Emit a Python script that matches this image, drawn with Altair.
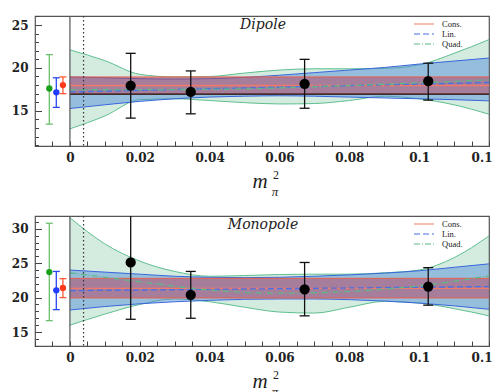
import altair as alt
import pandas as pd

# ---------------- data ----------------
XG = [0.00, 0.01, 0.02, 0.03, 0.04, 0.05, 0.06, 0.07, 0.08, 0.09, 0.10, 0.11, 0.12]
X_DOMAIN = [-0.01, 0.12]
X_LABELS = [0, 0.02, 0.04, 0.06, 0.08, 0.10, 0.12]
X_MINOR = [-0.01, -0.005, 0, 0.005, 0.01, 0.015, 0.02, 0.025, 0.03, 0.035, 0.04, 0.045, 0.05,
           0.055, 0.06, 0.065, 0.07, 0.075, 0.08, 0.085, 0.09, 0.095, 0.10, 0.105, 0.11, 0.115, 0.12]
PHYS_X = 0.0039
FITS = ["Cons.", "Lin.", "Quad."]
CONS_X = [0.0, 0.12]

# Dipole panel
D_YDOM = [10.9, 26.05]
D_YLAB = [15, 20, 25]
D_YMIN = [11, 12, 13, 14, 15, 16, 17, 18, 19, 20, 21, 22, 23, 24, 25, 26]
D_CONS = [16.95, 17.95, 18.95]          # low, central, high
D_LIN_LO = [15.27, 15.7, 16.1, 16.4, 16.6, 16.7, 16.75, 16.7, 16.6, 16.5, 16.4, 16.3, 16.16]
D_LIN_HI = [18.95, 18.85, 18.75, 18.7, 18.75, 18.9, 19.15, 19.45, 19.75, 20.05, 20.45, 20.8, 21.15]
D_LIN_MID_X = [0.0, 0.12]
D_LIN_MID = [17.2, 18.3]
D_QUAD_LO = [12.9, 14.4, 16.3, 16.4, 16.2, 15.95, 15.8, 15.85, 16.2, 16.7, 16.4, 15.7, 14.6]
D_QUAD_HI = [22.1, 20.85, 19.25, 18.95, 19.0, 19.4, 19.75, 19.9, 19.9, 19.95, 20.35, 21.7, 23.3]
D_QUAD_MID_X = [0.0, 0.04, 0.08, 0.12]
D_QUAD_MID = [17.45, 17.5, 17.95, 18.6]
D_PTS_X = [0.0174, 0.0346, 0.0672, 0.1026]
D_PTS_Y = [17.95, 17.2, 18.15, 18.45]
D_PTS_LO = [14.15, 14.65, 15.3, 16.25]
D_PTS_HI = [21.7, 19.65, 21.0, 20.55]
D_L_X = [-0.0059, -0.0039, -0.0020]
D_L_Y = [17.6, 17.15, 18.0]
D_L_LO = [13.45, 15.4, 17.0]
D_L_HI = [21.55, 18.85, 18.95]
D_BLACK = [16.95]

# Monopole panel
M_YDOM = [12.97, 31.85]
M_YLAB = [15, 20, 25, 30]
M_YMIN = [13, 14, 15, 16, 17, 18, 19, 20, 21, 22, 23, 24, 25, 26, 27, 28, 29, 30, 31]
M_CONS = [19.95, 21.35, 22.8]
M_LIN_LO = [18.2, 18.7, 19.1, 19.4, 19.6, 19.75, 19.8, 19.8, 19.7, 19.5, 19.2, 18.8, 18.3]
M_LIN_HI = [24.0, 23.7, 23.4, 23.1, 22.95, 22.9, 22.95, 23.1, 23.3, 23.55, 23.9, 24.4, 24.9]
M_LIN_MID_X = [0.0, 0.12]
M_LIN_MID = [21.0, 21.6]
M_QUAD_LO = [16.0, 17.6, 19.0, 19.8, 19.4, 18.6, 17.9, 17.75, 18.6, 19.45, 19.2, 18.4, 17.35]
M_QUAD_HI = [31.6, 27.8, 25.3, 23.8, 23.1, 23.2, 23.35, 23.4, 23.4, 23.6, 24.0, 25.8, 28.95]
M_QUAD_MID_X = [0.0, 0.02, 0.04, 0.06, 0.08, 0.10, 0.12]
M_QUAD_MID = [23.6, 22.3, 21.1, 20.65, 20.9, 21.7, 23.15]
M_PTS_X = [0.0174, 0.0346, 0.0672, 0.1026]
M_PTS_Y = [25.1, 20.4, 21.2, 21.6]
M_PTS_LO = [16.85, 17.0, 17.35, 18.9]
M_PTS_HI = [33.0, 23.8, 25.1, 24.35]
M_L_X = [-0.0059, -0.0039, -0.0020]
M_L_Y = [23.7, 21.05, 21.4]
M_L_LO = [16.65, 18.25, 20.0]
M_L_HI = [30.8, 23.8, 22.75]

# ---------------- style ----------------
W, H = 454, 130
RED_LINE, RED_FILL = "#e8604f", "#b8405a"
BLUE_LINE, BLUE_FILL = "#3a66dd", "#4a86d8"
GREEN_LINE, GREEN_FILL = "#5fbf8f", "#52b482"
FIT_COLORS = ["#f07a6a", "#4a6ee6", "#5cb88a"]
FIT_DASH = [[1, 0], [6, 3], [6, 2, 1, 2]]
LEFT_PT_COLORS = ["#1a9f1a", "#1f3cff", "#ff3a1a"]
LEFT_BAR_COLORS = ["#6cbf6c", "#2a48f0", "#ff5a3a"]
SERIF = "DejaVu Serif"


def panel(title, ydom, ylab, ymin, cons, lin_lo, lin_hi, lin_mx, lin_m,
          q_lo, q_hi, q_mx, q_m, px, py, plo, phi, lx, ly, llo, lhi, black=None):
    xs = alt.Scale(domain=X_DOMAIN, nice=False, zero=False)
    ys = alt.Scale(domain=ydom, nice=False, zero=False)

    ax_xlab = alt.Axis(orient="bottom", values=X_LABELS, format="~g", ticks=False, domain=False,
                       grid=False, labelFont=SERIF, labelFontWeight="bold", labelFontSize=12,
                       labelColor="#222", labelPadding=6, labelFlush=True, labelFlushOffset=3,
                       title=None)
    ax_xtick = alt.Axis(orient="top", offset=-H, values=X_MINOR, labels=False, domain=False,
                        grid=False, ticks=True, tickSize=5, tickColor="#444", tickWidth=1, title=None)
    ax_ylab = alt.Axis(orient="left", values=ylab, ticks=False, domain=False, grid=False,
                       labelFont=SERIF, labelFontWeight="bold", labelFontSize=12, labelColor="#222",
                       labelPadding=7, labelFlush=False, title=None)
    ax_ymaj = alt.Axis(orient="right", offset=-W, values=ylab, labels=False, domain=False,
                       grid=False, tickSize=6.5, tickColor="#444", tickWidth=1, title=None)
    ax_ymin = alt.Axis(orient="right", offset=-W, values=ymin, labels=False, domain=False,
                       grid=False, tickSize=3.5, tickColor="#444", tickWidth=1, title=None)

    def band(lo, hi, xvals, fill, op, line, xaxis, yaxis):
        df = pd.DataFrame({"x": xvals, "lo": lo, "hi": hi})
        area = alt.Chart(df).mark_area(color=fill, opacity=op, interpolate="monotone", clip=True).encode(
            x=alt.X("x:Q", scale=xs, axis=xaxis), y=alt.Y("lo:Q", scale=ys, axis=yaxis), y2="hi:Q")
        edges = alt.Chart(df).transform_fold(["lo", "hi"], as_=["edge", "v"]).mark_line(
            color=line, strokeWidth=1, interpolate="monotone", clip=True).encode(
            x=alt.X("x:Q", scale=xs, axis=None), y=alt.Y("v:Q", scale=ys, axis=None), detail="edge:N")
        return [area, edges]

    layers = []
    layers += band(q_lo, q_hi, XG, GREEN_FILL, 0.25, GREEN_LINE, ax_xlab, ax_ylab)
    layers += band(lin_lo, lin_hi, XG, BLUE_FILL, 0.45, BLUE_LINE, ax_xtick, ax_ymaj)
    layers += band([cons[0]] * 2, [cons[2]] * 2, CONS_X, RED_FILL, 0.5, RED_LINE, None, ax_ymin)

    # central fit lines with legend
    rows = []
    for xv in CONS_X:
        rows.append({"fit": "Cons.", "x": xv, "y": cons[1]})
    for xv, yv in zip(lin_mx, lin_m):
        rows.append({"fit": "Lin.", "x": xv, "y": yv})
    for xv, yv in zip(q_mx, q_m):
        rows.append({"fit": "Quad.", "x": xv, "y": yv})
    leg = alt.Legend(title=None, orient="none", legendX=384, legendY=3,
                     symbolType="M-2.5,0H2.5", symbolSize=64, symbolStrokeWidth=1.2,
                     labelFont="Liberation Serif", labelFontSize=8.5, labelColor="#222",
                     labelOffset=13, rowPadding=-1, padding=0)
    centers = alt.Chart(pd.DataFrame(rows)).mark_line(strokeWidth=1.3, interpolate="monotone", clip=True).encode(
        x=alt.X("x:Q", scale=xs, axis=None), y=alt.Y("y:Q", scale=ys, axis=None),
        color=alt.Color("fit:N", scale=alt.Scale(domain=FITS, range=FIT_COLORS), legend=leg),
        strokeDash=alt.StrokeDash("fit:N", scale=alt.Scale(domain=FITS, range=FIT_DASH), legend=leg))
    layers.append(centers)

    if black is not None:
        bl = pd.DataFrame({"x": [CONS_X[0]], "x2": [CONS_X[1]], "y": black})
        layers.append(alt.Chart(bl).mark_rule(color="#111", strokeWidth=1.2).encode(
            x=alt.X("x:Q", scale=xs, axis=None), x2="x2:Q", y=alt.Y("y:Q", scale=ys, axis=None)))

    layers.append(alt.Chart(pd.DataFrame({"x": [0.0]})).mark_rule(color="#555", strokeWidth=1.2).encode(
        x=alt.X("x:Q", scale=xs, axis=None)))
    layers.append(alt.Chart(pd.DataFrame({"x": [PHYS_X]})).mark_rule(
        color="#333", strokeWidth=1.2, strokeDash=[1.5, 2.5]).encode(x=alt.X("x:Q", scale=xs, axis=None)))

    # lattice data points
    pdf = pd.DataFrame({"x": px, "y": py, "lo": plo, "hi": phi})
    layers.append(alt.Chart(pdf).mark_rule(color="#111", strokeWidth=1.3, clip=True).encode(
        x=alt.X("x:Q", scale=xs, axis=None), y=alt.Y("lo:Q", scale=ys, axis=None), y2="hi:Q"))
    layers.append(alt.Chart(pdf).transform_fold(["lo", "hi"], as_=["e", "v"]).mark_tick(
        orient="horizontal", size=10, thickness=1.3, color="#111", opacity=1, clip=True).encode(
        x=alt.X("x:Q", scale=xs, axis=None), y=alt.Y("v:Q", scale=ys, axis=None)))
    layers.append(alt.Chart(pdf).mark_circle(size=105, color="black", opacity=1).encode(
        x=alt.X("x:Q", scale=xs, axis=None), y=alt.Y("y:Q", scale=ys, axis=None)))

    # extrapolated values at the physical point (left)
    ldf = pd.DataFrame({"x": lx, "y": ly, "lo": llo, "hi": lhi, "pc": LEFT_PT_COLORS, "bc": LEFT_BAR_COLORS})
    layers.append(alt.Chart(ldf).mark_rule(strokeWidth=1.3).encode(
        x=alt.X("x:Q", scale=xs, axis=None), y=alt.Y("lo:Q", scale=ys, axis=None), y2="hi:Q",
        color=alt.Color("bc:N", scale=None)))
    layers.append(alt.Chart(ldf).transform_fold(["lo", "hi"], as_=["e", "v"]).mark_tick(
        orient="horizontal", size=7, thickness=1.3, opacity=1).encode(
        x=alt.X("x:Q", scale=xs, axis=None), y=alt.Y("v:Q", scale=ys, axis=None),
        color=alt.Color("bc:N", scale=None)))
    layers.append(alt.Chart(ldf).mark_circle(size=40, opacity=1).encode(
        x=alt.X("x:Q", scale=xs, axis=None), y=alt.Y("y:Q", scale=ys, axis=None),
        color=alt.Color("pc:N", scale=None)))

    # panel title and x-axis title (m_pi^2)
    layers.append(alt.Chart(pd.DataFrame({"t": [title]})).mark_text(
        font=SERIF, fontStyle="italic", fontSize=14, color="#222", baseline="middle").encode(
        text="t:N", x=alt.value(228), y=alt.value(9)))
    layers.append(alt.Chart(pd.DataFrame({"t": ["m"]})).mark_text(
        font="Liberation Serif", fontStyle="italic", fontSize=21, color="#222", baseline="middle").encode(
        text="t:N", x=alt.value(225), y=alt.value(166)))
    layers.append(alt.Chart(pd.DataFrame({"t": ["2"]})).mark_text(
        font="Liberation Serif", fontSize=12, color="#222", baseline="middle").encode(
        text="t:N", x=alt.value(241), y=alt.value(159)))
    layers.append(alt.Chart(pd.DataFrame({"t": ["π"]})).mark_text(
        font="Liberation Serif", fontStyle="italic", fontSize=13, color="#222", baseline="middle").encode(
        text="t:N", x=alt.value(240), y=alt.value(176)))

    return alt.layer(*layers).resolve_axis(x="independent", y="independent").properties(width=W, height=H)


top = panel("Dipole", D_YDOM, D_YLAB, D_YMIN, D_CONS, D_LIN_LO, D_LIN_HI, D_LIN_MID_X, D_LIN_MID,
            D_QUAD_LO, D_QUAD_HI, D_QUAD_MID_X, D_QUAD_MID, D_PTS_X, D_PTS_Y, D_PTS_LO, D_PTS_HI,
            D_L_X, D_L_Y, D_L_LO, D_L_HI, black=D_BLACK)
bottom = panel("Monopole", M_YDOM, M_YLAB, M_YMIN, M_CONS, M_LIN_LO, M_LIN_HI, M_LIN_MID_X, M_LIN_MID,
               M_QUAD_LO, M_QUAD_HI, M_QUAD_MID_X, M_QUAD_MID, M_PTS_X, M_PTS_Y, M_PTS_LO, M_PTS_HI,
               M_L_X, M_L_Y, M_L_LO, M_L_HI)

chart = alt.vconcat(top, bottom, spacing=70, bounds="flush").resolve_scale(
    color="independent", strokeDash="independent").properties(
    padding={"left": 2, "top": 6, "right": 1, "bottom": 0}).configure_view(
    stroke="#555", strokeWidth=1.2)

chart.save("out.html", embed_options={"renderer": "svg", "actions": False})
